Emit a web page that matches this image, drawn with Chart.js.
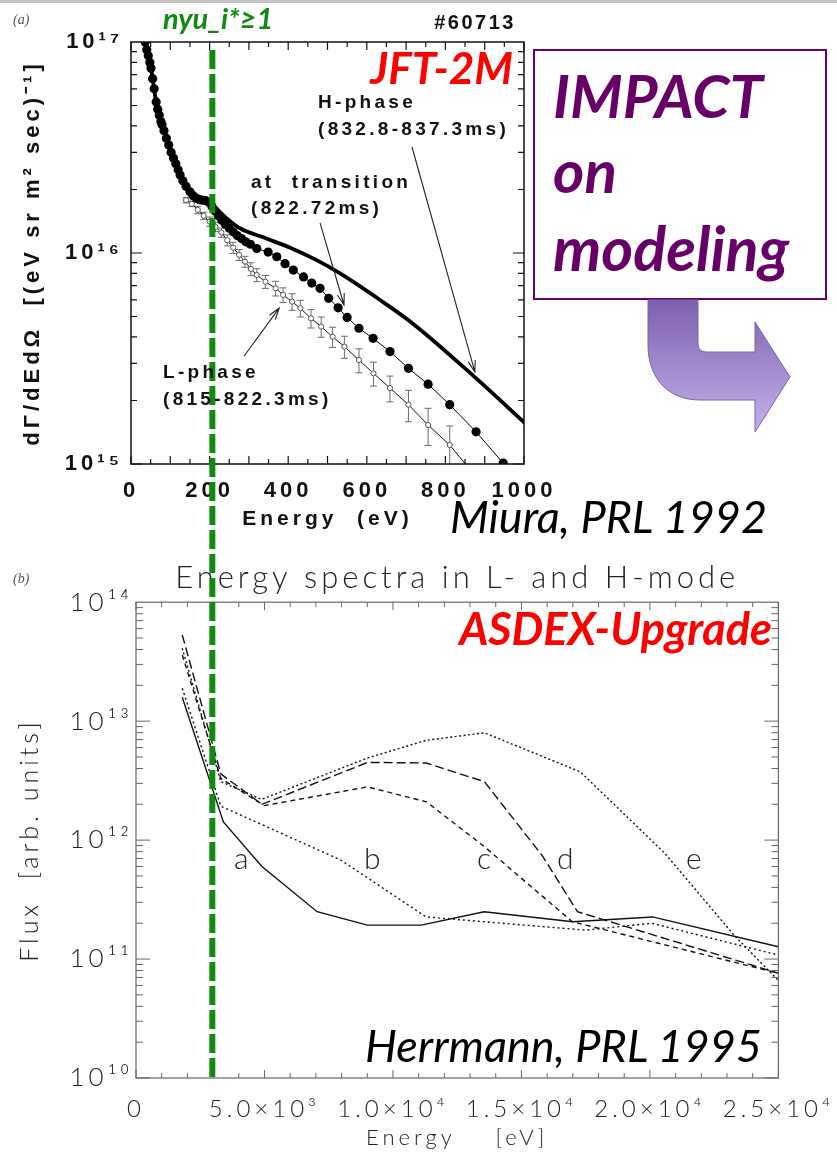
<!DOCTYPE html>
<html>
<head>
<meta charset="utf-8">
<script src="https://cdn.jsdelivr.net/npm/chart.js@4.4.1/dist/chart.umd.min.js"></script>
<style>
body { margin: 0; background: #fff; }
#page { position: relative; width: 837px; height: 1155px; overflow: hidden; background: #fff; }
canvas { position: absolute; left: 0; }
#topChart { top: 0; }
#botChart { top: 540px; }
.t { position: absolute; white-space: nowrap; line-height: 1; }
.slide { font-family: Lato, "Open Sans", sans-serif; }
.lbl { font-family: "Liberation Sans", Arial, sans-serif; font-weight: bold; font-size: 19px; letter-spacing: 3.3px; color: #111; }
.thin { font-family: Lato, "Open Sans", sans-serif; font-weight: 300; font-size: 30px; color: #222; }
</style>
</head>
<body>
<div id="page">
  <div style="position:absolute;left:0;top:0;width:837px;height:3px;background:#c4c4c4"></div>
  <canvas id="topChart" width="837" height="540"></canvas>
  <canvas id="botChart" width="837" height="615"></canvas>

  <div class="t" style="left:13px;top:12px;font:italic 14px 'Liberation Serif',serif;color:#555">(a)</div>
  <div class="t slide" style="left:163px;top:3px;font-size:29px;font-weight:bold;font-style:italic;color:#128a12">nyu_i*≥1</div>
  <div class="t" style="right:321px;top:11px;font:bold 20px 'Liberation Sans',Arial,sans-serif;letter-spacing:2.5px;color:#111">#60713</div>
  <div class="t slide" style="right:324px;top:45px;font-size:44px;font-weight:bold;font-style:italic;color:#ff0000">JFT-2M</div>
  <div class="t lbl" style="left:318px;top:92px">H-phase</div>
  <div class="t lbl" style="left:318px;top:119px">(832.8-837.3ms)</div>
  <div class="t lbl" style="left:251px;top:172px">at&nbsp;&nbsp;transition</div>
  <div class="t lbl" style="left:251px;top:198px">(822.72ms)</div>
  <div class="t lbl" style="left:163px;top:362px">L-phase</div>
  <div class="t lbl" style="left:163px;top:389px">(815-822.3ms)</div>
  <div class="t slide" style="left:450px;top:494px;font-size:45px;font-style:italic;color:#000">Miura, PRL 1992</div>

  <div style="position:absolute;left:533px;top:49px;width:290px;height:247px;border:2px solid #660066;background:#fff"></div>
  <div class="t slide" style="left:553px;top:65px;font-size:60px;font-weight:bold;font-style:italic;color:#660066">IMPACT</div>
  <div class="t slide" style="left:553px;top:140px;font-size:60px;font-weight:bold;font-style:italic;color:#660066">on</div>
  <div class="t slide" style="left:553px;top:217px;font-size:61px;font-weight:bold;font-style:italic;color:#660066">modeling</div>
  <svg style="position:absolute;left:0;top:0" width="837" height="460">
    <defs>
      <linearGradient id="ag" x1="0" y1="300" x2="0" y2="432" gradientUnits="userSpaceOnUse">
        <stop offset="0" stop-color="#7d60ad"/>
        <stop offset="1" stop-color="#c7b2ea"/>
      </linearGradient>
    </defs>
    <path d="M648,300 L698,300 L698,344 Q698,352 706,352 L755,352 L755,322 L790,377 L755,432 L755,400 L700,400 C668,400 648,378 648,345 Z"
          fill="url(#ag)" stroke="#7a62a8" stroke-width="1"/>
  </svg>

  <div class="t" style="left:13px;top:571px;font:italic 14px 'Liberation Serif',serif;color:#555">(b)</div>
  <div class="t slide" style="right:65px;top:606px;font-size:45px;font-weight:bold;font-style:italic;color:#ff0000">ASDEX-Upgrade</div>
  <div class="t slide" style="left:365px;top:1023px;font-size:45px;font-style:italic;color:#000">Herrmann, PRL 1995</div>
  <div class="t thin" style="left:234px;top:842px">a</div>
  <div class="t thin" style="left:364px;top:842px">b</div>
  <div class="t thin" style="left:477px;top:842px">c</div>
  <div class="t thin" style="left:557px;top:842px">d</div>
  <div class="t thin" style="left:686px;top:842px">e</div>
</div>

<script>
// ---- (a) JFT-2M, Miura PRL 1992 ----
var topXTicks = [0, 200, 400, 600, 800, 1000];
var topXLabels = ['0', '200', '400', '600', '800', '1000'];
var topYTicks = [1e15, 1e16, 1e17];
var topYLabels = ['10¹⁵', '10¹⁶', '10¹⁷'];

// H-phase (832.8-837.3ms), thick line
var hEnergy = [36, 51, 64, 79, 102, 125, 150, 175, 201, 209, 240, 277, 340, 405, 470, 532, 633, 719, 877, 1003];
var hFlux = [1.0e17, 7.5e16, 5.2e16, 4.05e16, 3.0e16, 2.34e16, 1.95e16, 1.8e16, 1.76e16, 1.69e16,
             1.48e16, 1.31e16, 1.18e16, 1.06e16, 9.3e15, 8.0e15, 6.0e15, 4.6e15, 2.56e15, 1.56e15];

// at transition (822.72ms), filled circles
var trEnergy = [36, 40, 44, 48, 51, 55, 59, 64, 68, 72, 76, 79, 84, 90, 96, 102, 108, 114, 120, 125,
                132, 140, 150, 158, 166, 174, 182, 190, 198, 206, 214, 222, 231, 240, 250, 260, 270,
                281, 292, 304, 320, 349, 371, 392, 413, 439, 460, 481, 503, 527, 550, 580, 616, 659,
                706, 756, 811, 878, 947];
var trFlux = [1.0e17, 9.2e16, 8.6e16, 8.0e16, 7.5e16, 6.7e16, 6.0e16, 5.2e16, 4.8e16, 4.5e16, 4.2e16,
              4.05e16, 3.8e16, 3.5e16, 3.25e16, 3.0e16, 2.82e16, 2.65e16, 2.48e16, 2.34e16, 2.2e16,
              2.07e16, 1.95e16, 1.87e16, 1.82e16, 1.79e16, 1.78e16, 1.77e16, 1.74e16, 1.66e16, 1.58e16,
              1.5e16, 1.43e16, 1.37e16, 1.31e16, 1.26e16, 1.21e16, 1.17e16, 1.13e16, 1.1e16, 1.05e16,
              1.01e16, 9.6e15, 8.9e15, 8.3e15, 7.7e15, 7.2e15, 6.8e15, 6.1e15, 5.5e15, 4.95e15, 4.40e15,
              3.94e15, 3.41e15, 2.84e15, 2.39e15, 1.91e15, 1.42e15, 1.01e15];

// L-phase (815-822.3ms), open circles with error bars (error in %)
var lEnergy = [140, 155, 170, 185, 200, 215, 230, 245, 260, 275, 290, 305, 320, 342, 368, 387, 410, 431,
               458, 484, 513, 543, 580, 617, 659, 706, 756, 811, 851];
var lFlux = [1.78e16, 1.71e16, 1.6e16, 1.5e16, 1.41e16, 1.33e16, 1.25e16, 1.15e16, 1.06e16, 9.8e15,
             9.1e15, 8.4e15, 7.87e15, 7.31e15, 6.80e15, 6.33e15, 5.88e15, 5.47e15, 4.90e15, 4.48e15,
             4.01e15, 3.60e15, 3.11e15, 2.69e15, 2.29e15, 1.91e15, 1.53e15, 1.23e15, 1.0e15];
var lErrPct = [3, 3, 4, 4, 5, 5, 5, 6, 6, 6, 6, 7, 7, 7, 8, 8, 9, 9, 10, 11, 11, 12, 13, 13, 14, 17, 20, 23, 0];

// ---- (b) ASDEX-Upgrade, Herrmann PRL 1995 ----
var botXTicks = [0, 5000, 10000, 15000, 20000, 25000];
var botXLabels = ['0', '5.0×10³', '1.0×10⁴', '1.5×10⁴', '2.0×10⁴', '2.5×10⁴'];
var botYTicks = [1e10, 1e11, 1e12, 1e13, 1e14];
var botYLabels = ['10¹⁰', '10¹¹', '10¹²', '10¹³', '10¹⁴'];

var aEnergy = [1800, 3400, 4900, 7050, 9000, 11100, 13550, 17000, 20100, 25000];
var aFlux = [1.59e13, 1.42e12, 6.0e11, 2.5e11, 1.93e11, 1.93e11, 2.5e11, 2.06e11, 2.26e11, 1.27e11];
var bEnergy = [1800, 3300, 7970, 11290, 17490, 20070, 25000];
var bFlux = [1.89e13, 1.93e12, 6.8e11, 2.26e11, 1.75e11, 2.0e11, 1.08e11];
var cEnergy = [1800, 3300, 4990, 9010, 11300, 13560, 16980, 25000];
var cFlux = [3.6e13, 3.3e12, 1.95e12, 2.8e12, 2.1e12, 8.8e11, 2.06e11, 7.6e10];
var dEnergy = [1800, 3300, 4900, 9010, 11290, 13560, 15830, 17180, 25000];
var dFlux = [5.3e13, 3.6e12, 2.0e12, 4.5e12, 4.45e12, 3.1e12, 7.3e11, 2.5e11, 7.6e10];
var eEnergy = [1800, 3300, 4890, 9010, 11290, 13560, 17290, 20590, 23270, 25000];
var eFlux = [4.1e13, 3.1e12, 2.2e12, 4.9e12, 6.9e12, 7.98e12, 3.75e12, 7.7e11, 1.59e11, 6.6e10];

// collisionality marker energy in each panel
var markTop = 207;
var markBot = 2970;

function pts(xs, ys) {
  return xs.map(function (x, i) { return { x: x, y: ys[i] }; });
}

function spacing(px) {
  return {
    id: 'spacing',
    beforeDraw: function (chart) { chart.ctx.letterSpacing = px + 'px'; },
    afterDraw: function (chart) { chart.ctx.letterSpacing = '0px'; }
  };
}

// box with inward ticks on all four sides
function frameTicks(cfg) {
  return {
    id: 'frameTicks',
    afterDraw: function (chart) {
      var ctx = chart.ctx, a = chart.chartArea, x = chart.scales.x, y = chart.scales.y;
      ctx.save();
      ctx.strokeStyle = cfg.color;
      ctx.lineWidth = cfg.width;
      ctx.strokeRect(a.left, a.top, a.right - a.left, a.bottom - a.top);
      ctx.lineWidth = cfg.tickWidth;
      ctx.beginPath();
      var lo = Math.round(Math.log10(y.min)), hi = Math.round(Math.log10(y.max));
      for (var p = lo; p < hi; p++) {
        for (var m = 1; m < 10; m++) {
          var py = y.getPixelForValue(m * Math.pow(10, p));
          var len = m === 1 ? cfg.yMajor : cfg.yMinor;
          ctx.moveTo(a.left, py); ctx.lineTo(a.left + len, py);
          ctx.moveTo(a.right, py); ctx.lineTo(a.right - len, py);
        }
      }
      for (var v = x.min; v <= x.max + 1e-6; v += cfg.xStep) {
        var px = x.getPixelForValue(v);
        var l2 = Math.abs(v % cfg.xMajorStep) < 1e-6 ? cfg.xMajor : cfg.xMinor;
        ctx.moveTo(px, a.bottom); ctx.lineTo(px, a.bottom - l2);
        ctx.moveTo(px, a.top); ctx.lineTo(px, a.top + l2);
      }
      ctx.stroke();
      ctx.restore();
    }
  };
}

function greenMarker(value, fromY, toBottom, offset) {
  return {
    id: 'greenMarker',
    afterDraw: function (chart) {
      var ctx = chart.ctx, px = chart.scales.x.getPixelForValue(value);
      var y2 = toBottom ? chart.chartArea.bottom : chart.height;
      ctx.save();
      ctx.strokeStyle = '#128a12';
      ctx.lineWidth = 6;
      ctx.setLineDash([19, 5]);
      ctx.lineDashOffset = offset;
      ctx.beginPath();
      ctx.moveTo(px, fromY); ctx.lineTo(px, y2);
      ctx.stroke();
      ctx.restore();
    }
  };
}

var errorBars = {
  id: 'errorBars',
  beforeDatasetsDraw: function (chart) {
    var ctx = chart.ctx, a = chart.chartArea, x = chart.scales.x, y = chart.scales.y;
    ctx.save();
    ctx.beginPath();
    ctx.rect(a.left, a.top, a.right - a.left, a.bottom - a.top);
    ctx.clip();
    ctx.strokeStyle = '#6a6a6a';
    ctx.lineWidth = 1;
    ctx.beginPath();
    lEnergy.forEach(function (e, i) {
      var r = lErrPct[i] / 100;
      if (!r) return;
      var px = x.getPixelForValue(e);
      var p1 = y.getPixelForValue(lFlux[i] * (1 + r));
      var p2 = y.getPixelForValue(lFlux[i] * (1 - r));
      ctx.moveTo(px, p1); ctx.lineTo(px, p2);
      ctx.moveTo(px - 3.5, p1); ctx.lineTo(px + 3.5, p1);
      ctx.moveTo(px - 3.5, p2); ctx.lineTo(px + 3.5, p2);
    });
    ctx.stroke();
    ctx.restore();
  }
};

// label pointers, in data units
var pointers = [
  { from: [715, 3.18e16], to: [875, 2.73e15] },
  { from: [481, 1.39e16], to: [542, 5.67e15] },
  { from: [288, 3.25e15], to: [377, 5.48e15] }
];
var pointerArrows = {
  id: 'pointerArrows',
  afterDatasetsDraw: function (chart) {
    var ctx = chart.ctx, x = chart.scales.x, y = chart.scales.y;
    ctx.save();
    ctx.strokeStyle = '#222';
    ctx.lineWidth = 1.1;
    pointers.forEach(function (p) {
      var x1 = x.getPixelForValue(p.from[0]), y1 = y.getPixelForValue(p.from[1]);
      var x2 = x.getPixelForValue(p.to[0]), y2 = y.getPixelForValue(p.to[1]);
      var ang = Math.atan2(y2 - y1, x2 - x1), h = 12, w = 0.3;
      ctx.beginPath();
      ctx.moveTo(x1, y1); ctx.lineTo(x2, y2);
      ctx.moveTo(x2 - h * Math.cos(ang - w), y2 - h * Math.sin(ang - w));
      ctx.lineTo(x2, y2);
      ctx.lineTo(x2 - h * Math.cos(ang + w), y2 - h * Math.sin(ang + w));
      ctx.stroke();
    });
    ctx.restore();
  }
};

var boldFont = { family: '"Liberation Sans", Arial, sans-serif', weight: 'bold' };
var thinFont = { family: 'Lato, "Open Sans", sans-serif', weight: '300' };

new Chart(document.getElementById('topChart'), {
  type: 'line',
  data: {
    datasets: [
      { label: 'H-phase', data: pts(hEnergy, hFlux), borderColor: '#000', borderWidth: 3.8, pointRadius: 0,
        cubicInterpolationMode: 'monotone' },
      { label: 'at transition', data: pts(trEnergy, trFlux), borderColor: '#000', borderWidth: 1,
        pointRadius: 4.6, pointBackgroundColor: '#000', pointBorderWidth: 0 },
      { label: 'L-phase', data: pts(lEnergy, lFlux), borderColor: '#111', borderWidth: 1,
        pointRadius: lEnergy.map(function (e, i) { return i === lEnergy.length - 1 ? 0 : 2.6; }),
        pointBackgroundColor: '#fff', pointBorderColor: '#555', pointBorderWidth: 1 }
    ]
  },
  options: {
    responsive: false,
    animation: false,
    layout: { padding: { left: 16, right: 313, top: 42, bottom: 6 } },
    plugins: { legend: { display: false }, tooltip: { enabled: false } },
    scales: {
      x: {
        type: 'linear', min: 0, max: 1000,
        afterBuildTicks: function (s) { s.ticks = topXTicks.map(function (v) { return { value: v }; }); },
        afterFit: function (s) { s.height = 70; },
        grid: { display: false, drawTicks: false },
        border: { display: false },
        ticks: { autoSkip: false, maxRotation: 0, padding: 14, color: '#111',
                 font: Object.assign({ size: 22 }, boldFont),
                 callback: function (v, i) { return topXLabels[i]; } },
        title: { display: true, text: 'Energy  (eV)', color: '#111',
                 font: Object.assign({ size: 21 }, boldFont), padding: { top: 0, bottom: 2 } }
      },
      y: {
        type: 'logarithmic', min: 1e15, max: 1e17,
        afterBuildTicks: function (s) { s.ticks = topYTicks.map(function (v) { return { value: v }; }); },
        afterFit: function (s) { s.width = 115; },
        grid: { display: false, drawTicks: false },
        border: { display: false },
        ticks: { autoSkip: false, padding: 8, color: '#111',
                 font: Object.assign({ size: 22 }, boldFont),
                 callback: function (v, i) { return topYLabels[i]; } },
        title: { display: true, text: 'dΓ/dEdΩ  [(eV sr m² sec)⁻¹]', color: '#111',
                 font: Object.assign({ size: 22 }, boldFont), padding: { top: 4, bottom: 4 } }
      }
    }
  },
  plugins: [spacing(4), errorBars, pointerArrows,
            frameTicks({ color: '#111', width: 1.5, tickWidth: 1.2, yMajor: 11, yMinor: 6, xStep: 50, xMajorStep: 100, xMajor: 8, xMinor: 5 }),
            greenMarker(markTop, 50, false, 0)]
});

function botSet(label, xs, ys, dash) {
  return { label: label, data: pts(xs, ys), borderColor: '#111', borderWidth: 1.4, borderDash: dash, pointRadius: 0 };
}

new Chart(document.getElementById('botChart'), {
  type: 'line',
  data: {
    datasets: [
      botSet('a', aEnergy, aFlux, []),
      botSet('b', bEnergy, bFlux, [2, 3]),
      botSet('c', cEnergy, cFlux, [5, 4]),
      botSet('d', dEnergy, dFlux, [9, 4]),
      botSet('e', eEnergy, eFlux, [2, 2.5])
    ]
  },
  options: {
    responsive: false,
    animation: false,
    layout: { padding: { left: 12, right: 52, top: 0, bottom: 0 } },
    plugins: {
      legend: { display: false }, tooltip: { enabled: false },
      title: { display: true, fullSize: false, text: 'Energy spectra in L- and H-mode', color: '#222',
               font: Object.assign({ size: 31 }, thinFont), padding: { top: 19, bottom: 6 } }
    },
    scales: {
      x: {
        type: 'linear', min: 0, max: 25000,
        afterBuildTicks: function (s) { s.ticks = botXTicks.map(function (v) { return { value: v }; }); },
        afterFit: function (s) { s.height = 77; },
        grid: { display: false, drawTicks: false },
        border: { display: false },
        ticks: { autoSkip: false, maxRotation: 0, padding: 17, color: '#222',
                 font: Object.assign({ size: 24 }, thinFont),
                 callback: function (v, i) { return botXLabels[i]; } },
        title: { display: true, text: 'Energy    [eV]', color: '#222',
                 font: Object.assign({ size: 22 }, thinFont), padding: { top: 0, bottom: 4 } }
      },
      y: {
        type: 'logarithmic', min: 1e10, max: 1e14,
        afterBuildTicks: function (s) { s.ticks = botYTicks.map(function (v) { return { value: v }; }); },
        afterFit: function (s) { s.width = 124; },
        grid: { display: false, drawTicks: false },
        border: { display: false },
        ticks: { autoSkip: false, padding: 3, color: '#222',
                 font: Object.assign({ size: 26 }, thinFont),
                 callback: function (v, i) { return botYLabels[i]; } },
        title: { display: true, text: 'Flux  [arb. units]', color: '#222',
                 font: Object.assign({ size: 25 }, thinFont), padding: { top: 3, bottom: 4 } }
      }
    }
  },
  plugins: [spacing(4),
            frameTicks({ color: '#666', width: 1.2, tickWidth: 1, yMajor: 14, yMinor: 7, xStep: 1000, xMajorStep: 5000, xMajor: 8, xMinor: 5 }),
            greenMarker(markBot, 0, true, 10)]
});
</script>
</body>
</html>
